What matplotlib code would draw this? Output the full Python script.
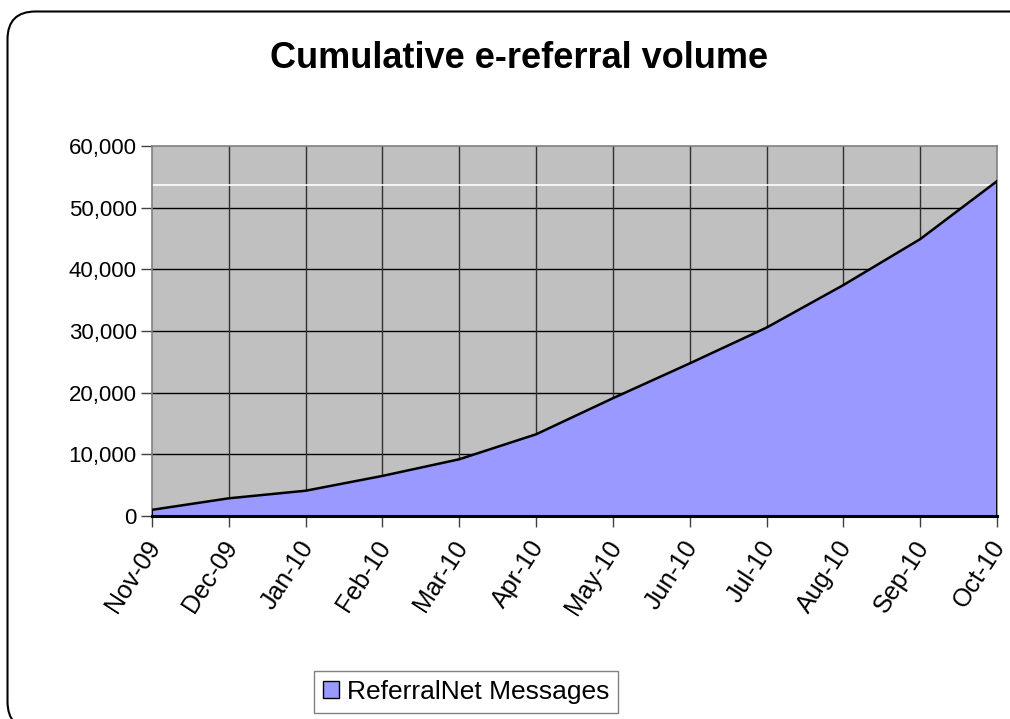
import numpy as np
import matplotlib
matplotlib.use("Agg")
import matplotlib.pyplot as plt
from matplotlib.patches import FancyBboxPatch, Patch
from matplotlib.ticker import FuncFormatter
from matplotlib.transforms import ScaledTranslation

plt.rcParams["font.family"] = ["Liberation Sans", "DejaVu Sans"]

# data
months = ["Nov-09", "Dec-09", "Jan-10", "Feb-10", "Mar-10", "Apr-10",
          "May-10", "Jun-10", "Jul-10", "Aug-10", "Sep-10", "Oct-10"]
messages = [1000, 2870, 4100, 6500, 9200, 13250,
            19100, 24750, 30550, 37450, 44900, 54300]
white_line_value = 53670
y_ticks = [0, 10000, 20000, 30000, 40000, 50000, 60000]

W, H = 1010, 719
fig = plt.figure(figsize=(W / 100, H / 100), dpi=100)

# outer rounded frame, drawn in pixel coordinates
bg = fig.add_axes([0, 0, 1, 1], zorder=-10)
bg.set_xlim(0, W)
bg.set_ylim(H, 0)
bg.axis("off")
bg.add_patch(FancyBboxPatch((7.5, 11.5), 1030, 718,
                            boxstyle="round,pad=0,rounding_size=28",
                            facecolor="white", edgecolor="black", linewidth=1.5))

ax = fig.add_axes([152 / W, 1 - 516 / H, (997 - 152) / W, (516 - 146) / H])
ax.set_facecolor("#C0C0C0")
x = np.arange(len(months))

# grid under the area
for yv in y_ticks[1:-1]:
    ax.axhline(yv, color="black", lw=1.0, zorder=1)
for xv in x[1:-1]:
    ax.axvline(xv, color="#303030", lw=1.0, zorder=1)
ax.axhline(white_line_value, color="white", lw=1.2, zorder=1.5)

ax.fill_between(x, messages, 0, facecolor="#9999FF", edgecolor="none", zorder=2)
ax.plot(x, messages, color="black", lw=1.8, zorder=3)
ax.plot([x[0], x[0]], [0, messages[0]], color="black", lw=1.5, zorder=3)
ax.plot([x[-1], x[-1]], [0, messages[-1]], color="black", lw=2.0, zorder=3)

ax.set_xlim(x[0], x[-1])
ax.set_ylim(0, 60000)
ax.set_yticks(y_ticks)
ax.yaxis.set_major_formatter(FuncFormatter(lambda v, p: f"{int(v):,}"))
ax.set_xticks(x)
ax.set_xticklabels(months, rotation=57, ha="right", rotation_mode="anchor")

ax.tick_params(axis="y", direction="out", length=8, width=1, color="#404040",
               labelsize=16, pad=3)
ax.tick_params(axis="x", direction="out", length=8, width=1, color="#404040",
               labelsize=18, pad=5)

# nudge rotated labels a bit left so the last one stays inside the figure
shift = ScaledTranslation(-7 / 100, -2 / 100, fig.dpi_scale_trans)
for lbl in ax.get_xticklabels():
    lbl.set_transform(lbl.get_transform() + shift)

for side in ["left", "top", "right"]:
    ax.spines[side].set_color("#808080")
    ax.spines[side].set_linewidth(1.2)
ax.spines["bottom"].set_color("black")
ax.spines["bottom"].set_linewidth(2.2)
ax.spines["bottom"].set_zorder(4)

fig.text(519 / W, 1 - 68 / H, "Cumulative e-referral volume",
         ha="center", va="baseline", fontsize=26, fontweight="bold")

handle = Patch(facecolor="#9999FF", edgecolor="black", linewidth=1)
leg = fig.legend([handle], ["ReferralNet Messages"], loc="center",
                 bbox_to_anchor=(466 / W, 1 - 692 / H), fontsize=19,
                 frameon=True, fancybox=False, edgecolor="#606060",
                 handlelength=0.6, handleheight=0.6, handletextpad=0.3,
                 borderpad=0.35, borderaxespad=0)
leg.get_frame().set_linewidth(1.0)

fig.savefig("out.png", dpi=100)
